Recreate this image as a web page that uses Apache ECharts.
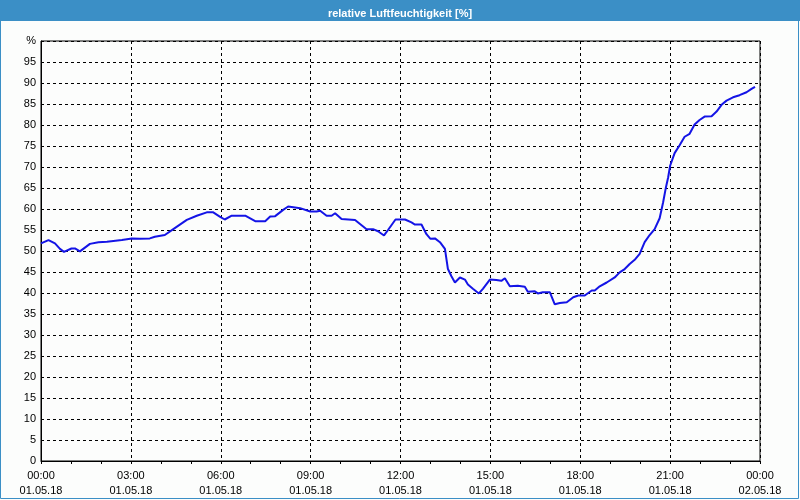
<!DOCTYPE html>
<html>
<head>
<meta charset="utf-8">
<script src="https://cdn.jsdelivr.net/npm/echarts@6/dist/echarts.min.js"></script>
<style>
html,body{margin:0;padding:0;background:#fcfdfc;}
#chart{width:800px;height:500px;}
</style>
</head>
<body>
<div id="chart"></div>
<script>
const chartTitle = "relative Luftfeuchtigkeit [%]";
const times = ["00:00","00:15","00:28","00:38","00:46","01:01","01:08","01:18","01:38","01:55","02:12","02:42","03:02","03:18","03:38","03:48","04:08","04:25","04:52","05:12","05:32","05:45","05:58","06:08","06:22","06:49","07:09","07:29","07:39","07:49","08:05","08:15","08:39","08:59","09:12","09:19","09:32","09:42","09:49","10:02","10:29","10:52","11:05","11:15","11:27","11:35","11:50","12:09","12:22","12:29","12:42","12:52","13:00","13:09","13:19","13:29","13:35","13:42","13:49","13:59","14:09","14:15","14:25","14:37","14:45","14:59","15:12","15:22","15:29","15:39","15:55","16:09","16:15","16:29","16:35","16:45","16:59","17:09","17:19","17:33","17:46","17:56","18:09","18:23","18:29","18:39","18:53","19:09","19:19","19:29","19:39","19:49","19:59","20:09","20:19","20:29","20:39","20:46","20:51","20:56","21:00","21:09","21:19","21:29","21:39","21:49","21:59","22:09","22:23","22:33","22:43","22:53","23:06","23:19","23:33","23:43","23:50"];
const humidity = [51.8,52.6,51.8,50.5,49.8,50.6,50.6,49.9,51.7,52.1,52.2,52.6,53.0,52.9,53.0,53.4,53.8,55.2,57.4,58.4,59.2,59.2,58.2,57.5,58.4,58.4,57.1,57.1,58.2,58.3,59.8,60.6,60.2,59.4,59.4,59.6,58.4,58.4,59.0,57.6,57.4,55.2,55.2,54.7,53.7,55.0,57.5,57.5,56.8,56.3,56.3,54.0,52.9,53.0,52.1,50.5,45.7,44.0,42.5,43.7,43.2,42.0,41.0,39.9,41.0,43.2,43.1,42.9,43.5,41.6,41.7,41.5,40.3,40.4,39.9,40.2,40.2,37.3,37.6,37.8,39.0,39.4,39.4,40.6,40.6,41.6,42.5,43.7,44.9,45.7,46.9,47.9,49.3,52.1,53.8,55.2,57.8,61.6,64.8,67.5,70.3,73.3,75.2,77.2,77.9,80.1,81.2,82.0,82.1,83.2,84.8,85.8,86.6,87.1,87.8,88.6,89.1];
const xTickTimes = ["00:00","03:00","06:00","09:00","12:00","15:00","18:00","21:00","00:00"];
const xTickDates = ["01.05.18","01.05.18","01.05.18","01.05.18","01.05.18","01.05.18","01.05.18","01.05.18","02.05.18"];
const yUnitLabel = "%";

function toMin(s){const p=s.split(":");return (+p[0])*60+(+p[1]);}
const seriesData = times.map((t,i)=>[toMin(t),humidity[i]]);

const chart = echarts.init(document.getElementById('chart'), null, {renderer:'canvas'});
const font = "Liberation Sans";
chart.setOption({
  backgroundColor:'#fcfdfc',
  animation:false,
  title:{text:chartTitle,left:'center',top:3,textStyle:{color:'#ffffff',fontWeight:'bold',fontSize:11,fontFamily:font}},
  graphic:[
    {type:'rect',z:-1,shape:{x:0,y:0,width:800,height:21},style:{fill:'#3b8fc6'}},
    {type:'rect',z:-1,shape:{x:0.5,y:0.5,width:798,height:498},style:{fill:null,stroke:'#3b8fc6',lineWidth:1}}
  ],
  grid:{left:41,right:40,top:41,bottom:39,show:true,borderColor:'#000',borderWidth:1,backgroundColor:'transparent'},
  xAxis:{
    type:'value',min:0,max:1440,interval:180,
    axisLine:{show:true,lineStyle:{color:'#000',width:1}},
    axisTick:{show:true,length:3,lineStyle:{color:'#000'}},
    minorTick:{show:true,splitNumber:3,length:3,lineStyle:{color:'#000'}},
    splitLine:{show:true,lineStyle:{color:'#000',type:[3,3],width:1}},
    axisLabel:{color:'#000',fontSize:11,fontFamily:font,lineHeight:15,margin:7,
      formatter:function(v){const i=Math.round(v/180);return xTickTimes[i]+"\n"+xTickDates[i];}}
  },
  yAxis:{
    type:'value',min:0,max:100,interval:5,
    axisLine:{show:true,lineStyle:{color:'#000',width:1}},
    axisTick:{show:false},
    splitLine:{show:true,lineStyle:{color:'#000',type:[3,3],width:1}},
    axisLabel:{color:'#000',fontSize:11,fontFamily:font,margin:5,
      formatter:function(v){return v===100?yUnitLabel:String(v);}}
  },
  series:[{type:'line',data:seriesData,showSymbol:false,smooth:false,
    lineStyle:{color:'#1414e6',width:2},itemStyle:{color:'#1414e6'}}]
});
</script>
</body>
</html>
